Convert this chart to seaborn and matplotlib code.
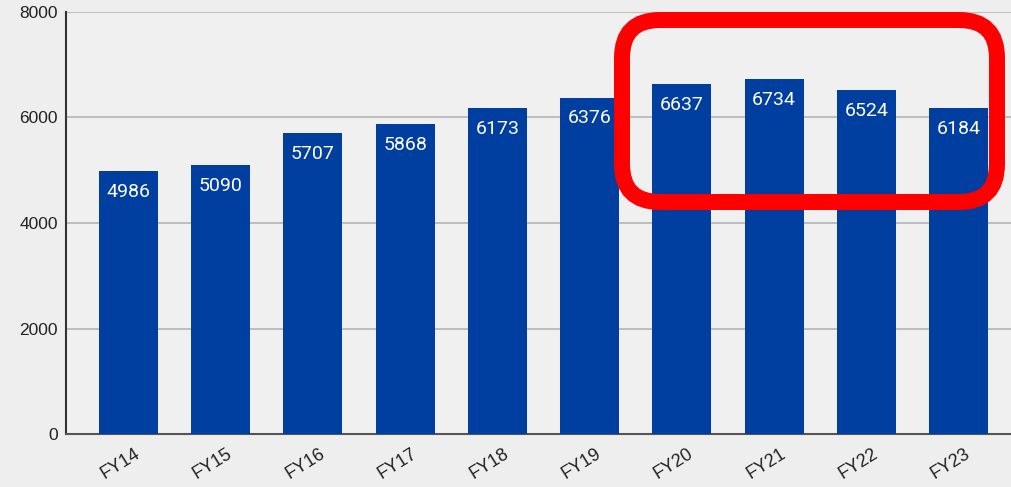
import matplotlib
matplotlib.use("Agg")
import matplotlib.pyplot as plt
import seaborn as sns
import pandas as pd
from matplotlib.patches import FancyBboxPatch
from matplotlib.transforms import IdentityTransform, ScaledTranslation

# === Data ===
years = ["FY14", "FY15", "FY16", "FY17", "FY18", "FY19", "FY20", "FY21", "FY22", "FY23"]
values = [4986, 5090, 5707, 5868, 6173, 6376, 6637, 6734, 6524, 6184]
y_ticks = [0, 2000, 4000, 6000, 8000]

df = pd.DataFrame({"year": years, "value": values})

sns.set_style("white")
plt.rcParams["font.family"] = ["Liberation Sans", "DejaVu Sans"]

fig = plt.figure(figsize=(10.12, 4.87), dpi=100)
fig.patch.set_facecolor("#eeeeee")
ax = fig.add_axes([0.0652, 0.1088, 0.9348, 0.8666])
ax.set_facecolor("#f0f0f0")

sns.barplot(data=df, x="year", y="value", color="#003ea0", saturation=1, width=0.64,
            edgecolor="none", linewidth=0, ax=ax, zorder=3)

# value labels inside bar tops
for i, v in enumerate(values):
    ax.annotate(str(v), (i, v), xytext=(0, -15), textcoords="offset points",
                ha="center", va="center", color="white", fontsize=14, family="Roboto", zorder=4)

ax.set_ylim(0, 8000)
ax.set_xlim(-0.678, 9.58)
ax.set_yticks(y_ticks)
ax.set_yticklabels([str(t) for t in y_ticks], fontsize=12.5, color="#222222")
ax.yaxis.grid(True, color="#b5b5b5", linewidth=1.2, zorder=0)
ax.set_xlabel("")
ax.set_ylabel("")
ax.tick_params(axis="y", length=0, pad=6)
ax.tick_params(axis="x", length=0, pad=8)
shift = ScaledTranslation(-8 / 100, 0, fig.dpi_scale_trans)
for lbl in ax.get_xticklabels():
    lbl.set_rotation(32)
    lbl.set_fontsize(13)
    lbl.set_color("#222222")
    lbl.set_transform(lbl.get_transform() + shift)

for s in ["top", "right"]:
    ax.spines[s].set_visible(False)
ax.spines["left"].set_color("#333333")
ax.spines["left"].set_linewidth(1.5)
ax.spines["bottom"].set_color("#555555")
ax.spines["bottom"].set_linewidth(1.5)

# red highlight box (pixel coordinates, origin bottom-left)
H = 487
box = FancyBboxPatch((622, H - 202), 997 - 622, 202 - 20,
                     boxstyle="round,pad=0,rounding_size=38",
                     transform=IdentityTransform(), fill=False,
                     edgecolor="#ff0000", linewidth=11.5, zorder=10)
fig.patches.append(box)

fig.savefig("out.png", dpi=100, facecolor=fig.get_facecolor())
